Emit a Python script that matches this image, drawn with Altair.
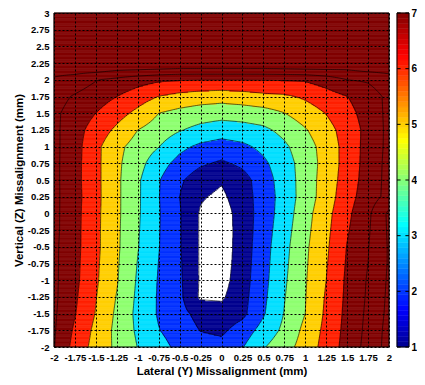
import numpy as np
import pandas as pd
import altair as alt

# ---------------- data ----------------
x_vals = [-2.0, -1.75, -1.5, -1.25, -1.0, -0.75, -0.5, -0.25, 0.0,
          0.25, 0.5, 0.75, 1.0, 1.25, 1.5, 1.75, 2.0]
y_vals = [-2.0, -1.75, -1.5, -1.25, -1.0, -0.75, -0.5, -0.25, 0.0, 0.25,
          0.5, 0.75, 1.0, 1.25, 1.5, 1.75, 2.0, 2.25, 2.5, 2.75, 3.0]

# one row per y value (bottom to top), one column per x value
z_m200 = [8.05, 6.64, 5.63, 4.8, 3.98, 3.35, 2.75, 2.45, 2.35, 2.95, 3.92, 4.62, 5.41, 6.39, 7.39, 8.33, 9.38]
z_m175 = [8.1, 6.84, 5.75, 4.74, 3.84, 3.04, 2.51, 1.97, 1.8, 2.46, 3.38, 4.22, 5.27, 6.27, 7.32, 8.26, 9.35]
z_m150 = [8.15, 7.05, 5.95, 4.82, 3.75, 2.9, 2.29, 1.7, 1.4, 1.75, 2.9, 4.04, 5.0, 6.18, 7.26, 8.2, 9.25]
z_m125 = [8.2, 7.15, 6.04, 4.95, 3.81, 2.9, 2.22, 0.85, 0.85, 1.66, 2.79, 3.95, 4.96, 6.1, 7.21, 8.13, 9.2]
z_m100 = [8.2, 7.24, 6.14, 5.08, 3.88, 2.93, 2.16, 0.9, 0.6, 1.58, 2.7, 3.86, 4.92, 6.0, 7.18, 8.09, 9.15]
z_m075 = [8.2, 7.27, 6.18, 5.12, 3.96, 2.98, 2.13, 0.9, 0.5, 1.52, 2.65, 3.78, 4.87, 5.92, 7.11, 8.0, 9.1]
z_m050 = [8.2, 7.3, 6.23, 5.17, 4.05, 3.04, 2.08, 0.9, 0.45, 1.48, 2.6, 3.71, 4.82, 5.84, 7.04, 7.96, 9.1]
z_m025 = [8.25, 7.31, 6.23, 5.18, 4.09, 3.06, 2.08, 0.9, 0.45, 1.46, 2.52, 3.6, 4.72, 5.76, 6.9, 7.88, 9.15]
z_p000 = [8.25, 7.33, 6.24, 5.2, 4.13, 3.08, 2.08, 0.9, 0.5, 1.46, 2.46, 3.48, 4.62, 5.68, 6.77, 7.8, 9.2]
z_p025 = [8.25, 7.36, 6.27, 5.2, 4.15, 3.04, 2.0, 1.1, 0.8, 1.55, 2.44, 3.42, 4.45, 5.5, 6.6, 7.53, 8.3]
z_p050 = [8.25, 7.33, 6.26, 5.2, 4.15, 3.07, 2.16, 1.45, 1.1, 1.6, 2.54, 3.46, 4.45, 5.46, 6.45, 7.45, 8.3]
z_p075 = [8.25, 7.34, 6.26, 5.2, 4.37, 3.41, 2.67, 2.15, 1.85, 2.21, 2.81, 3.57, 4.44, 5.38, 6.39, 7.39, 8.3]
z_p100 = [8.25, 7.38, 6.26, 5.26, 4.6, 4.03, 3.25, 2.8, 2.6, 2.8, 3.24, 3.83, 4.56, 5.41, 6.38, 7.36, 8.25]
z_p125 = [8.25, 7.38, 6.58, 5.8, 5.0, 4.54, 4.07, 3.7, 3.45, 3.6, 3.8, 4.28, 4.92, 5.64, 6.42, 7.31, 8.25]
z_p150 = [8.2, 7.58, 7.0, 6.39, 5.74, 5.0, 4.7, 4.5, 4.4, 4.45, 4.6, 4.98, 5.5, 6.03, 6.67, 7.41, 8.25]
z_p175 = [8.4, 7.89, 7.45, 7.0, 6.49, 5.98, 5.7, 5.5, 5.4, 5.55, 5.75, 5.85, 6.14, 6.56, 6.98, 7.6, 8.2]
z_p200 = [8.9, 8.6, 8.05, 7.75, 7.4, 7.15, 7.05, 7.02, 7.02, 7.02, 7.03, 7.05, 7.1, 7.45, 8.0, 8.1, 8.5]
z_p225 = [9.53, 9.85, 10.21, 9.98, 10.07, 10.04, 9.92, 9.93, 9.93, 9.93, 9.93, 10.0, 10.07, 9.95, 9.67, 9.98, 9.89]
z_p250 = [10.5, 10.5, 10.5, 10.5, 10.5, 10.5, 10.5, 10.5, 10.5, 10.5, 10.5, 10.5, 10.5, 10.5, 10.5, 10.5, 10.5]
z_p275 = [10.5, 10.5, 10.5, 10.5, 10.5, 10.5, 10.5, 10.5, 10.5, 10.5, 10.5, 10.5, 10.5, 10.5, 10.5, 10.5, 10.5]
z_p300 = [10.5, 10.5, 10.5, 10.5, 10.5, 10.5, 10.5, 10.5, 10.5, 10.5, 10.5, 10.5, 10.5, 10.5, 10.5, 10.5, 10.5]

fill_levels = [1, 2, 3, 4, 5, 6, 7]
line_levels = [1, 2, 3, 4, 5, 6, 7, 8, 9]
cbar_ticks = [1, 2, 3, 4, 5, 6, 7]

# ---------------- styles ----------------
band_colors = ["#ffffff", "#00008f", "#0030ff", "#00dfff", "#8fff70",
               "#ffcf00", "#ff2000", "#800000"]
jet_pos = [0.0, 7 / 63, 23 / 63, 39 / 63, 55 / 63, 1.0]
jet_cols = ["#00008f", "#0000ff", "#00ffff", "#ffff00", "#ff0000", "#800000"]
FONT = "Liberation Sans"

# ---------------- contour computation ----------------
X = np.array(x_vals)
Y = np.array(y_vals)
Z = np.array([z_m200, z_m175, z_m150, z_m125, z_m100, z_m075, z_m050, z_m025,
              z_p000, z_p025, z_p050, z_p075, z_p100, z_p125, z_p150, z_p175,
              z_p200, z_p225, z_p250, z_p275, z_p300])


def bilinear(xq, yq):
    ix = np.clip(np.searchsorted(X, xq, side="right") - 1, 0, len(X) - 2)
    iy = np.clip(np.searchsorted(Y, yq, side="right") - 1, 0, len(Y) - 2)
    tx = (xq - X[ix]) / (X[ix + 1] - X[ix])
    ty = (yq - Y[iy]) / (Y[iy + 1] - Y[iy])
    return (Z[iy, ix] * (1 - tx) * (1 - ty) + Z[iy, ix + 1] * tx * (1 - ty)
            + Z[iy + 1, ix] * (1 - tx) * ty + Z[iy + 1, ix + 1] * tx * ty)


# filled bands as horizontal runs
fx = np.linspace(X[0], X[-1], 801)
nrow = 260
ye = np.linspace(Y[0], Y[-1], nrow + 1)
yc = (ye[:-1] + ye[1:]) / 2
F = bilinear(fx[None, :], yc[:, None])
band = np.digitize(F, fill_levels)
rows = []
n = len(fx)
for r in range(nrow):
    b = band[r]
    ch = np.nonzero(np.diff(b))[0]
    starts = np.concatenate([[0], ch + 1])
    ends = np.concatenate([ch, [n - 1]])
    for s, e in zip(starts, ends):
        xl = fx[0] if s == 0 else (fx[s - 1] + fx[s]) / 2
        xr = fx[-1] if e == n - 1 else (fx[e] + fx[e + 1]) / 2
        rows.append({"x": xl, "x2": xr, "y": ye[r], "y2": ye[r + 1], "band": int(b[s])})
fill_df = pd.DataFrame(rows)

# contour lines (marching squares on a finer grid)
lx = np.linspace(X[0], X[-1], 161)
ly = np.linspace(Y[0], Y[-1], 201)
G = bilinear(lx[None, :], ly[:, None])
segs = []
for L in line_levels:
    B = G >= L
    cnt = B[:-1, :-1].astype(int) + B[:-1, 1:] + B[1:, :-1] + B[1:, 1:]
    ii, jj = np.nonzero((cnt > 0) & (cnt < 4))
    for i, j in zip(ii, jj):
        corners = [(lx[j], ly[i], G[i, j]), (lx[j + 1], ly[i], G[i, j + 1]),
                   (lx[j + 1], ly[i + 1], G[i + 1, j + 1]), (lx[j], ly[i + 1], G[i + 1, j])]
        pts = []
        for k in range(4):
            xa, ya, va = corners[k]
            xb, yb, vb = corners[(k + 1) % 4]
            if (va >= L) != (vb >= L):
                t = (L - va) / (vb - va)
                pts.append((xa + t * (xb - xa), ya + t * (yb - ya)))
        for k in range(0, len(pts) - 1, 2):
            segs.append({"x": pts[k][0], "y": pts[k][1], "x2": pts[k + 1][0], "y2": pts[k + 1][1]})
seg_df = pd.DataFrame(segs)

# ---------------- main chart ----------------
xscale = alt.Scale(domain=[float(X.min()), float(X.max())], nice=False, zero=False)
yscale = alt.Scale(domain=[float(Y.min()), float(Y.max())], nice=False, zero=False)
xaxis = alt.Axis(values=x_vals, labelExpr="datum.value + ''", title="Lateral (Y) Missalignment (mm)",
                 grid=True, gridColor="black", gridDash=[2, 2], gridWidth=1, gridOpacity=1,
                 ticks=False, domain=False, labelFont=FONT, labelFontWeight="bold",
                 labelFontSize=9.5, labelColor="black", labelPadding=5, labelOverlap=False,
                 labelFlush=False, titleFont=FONT, titleFontWeight="bold", titleFontSize=11.5,
                 titleColor="black", titlePadding=4, zindex=1)
yaxis = alt.Axis(values=y_vals, labelExpr="datum.value + ''", title="Vertical (Z) Missalignment (mm)",
                 grid=True, gridColor="black", gridDash=[2, 2], gridWidth=1, gridOpacity=1,
                 ticks=False, domain=False, labelFont=FONT, labelFontWeight="bold",
                 labelFontSize=9.5, labelColor="black", labelPadding=5, labelOverlap=False,
                 labelFlush=False, titleFont=FONT, titleFontWeight="bold", titleFontSize=11.5,
                 titleColor="black", titlePadding=3, zindex=1)

band_scale = alt.Scale(domain=list(range(len(band_colors))), range=band_colors)

fill = alt.Chart(fill_df).mark_rect(strokeWidth=0.6).encode(
    x=alt.X("x:Q", scale=xscale, axis=xaxis), x2="x2:Q",
    y=alt.Y("y:Q", scale=yscale, axis=yaxis), y2="y2:Q",
    color=alt.Color("band:O", scale=band_scale, legend=None),
    stroke=alt.Stroke("band:O", scale=band_scale, legend=None),
)
lines = alt.Chart(seg_df).mark_rule(color="black", strokeWidth=0.7, opacity=0.85).encode(
    x=alt.X("x:Q", scale=xscale, axis=xaxis), x2="x2:Q",
    y=alt.Y("y:Q", scale=yscale, axis=yaxis), y2="y2:Q",
)
frame_df = pd.DataFrame({"x": [X.min()], "x2": [X.max()], "y": [Y.min()], "y2": [Y.max()]})
frame = alt.Chart(frame_df).mark_rect(filled=False, stroke="black", strokeWidth=1).encode(
    x=alt.X("x:Q", scale=xscale, axis=xaxis), x2="x2:Q",
    y=alt.Y("y:Q", scale=yscale, axis=yaxis), y2="y2:Q",
)
main = alt.layer(fill, lines, frame).properties(width=335, height=334)

# ---------------- colorbar ----------------
lo, hi = cbar_ticks[0], cbar_ticks[-1]
nb = 64
cb_df = pd.DataFrame({
    "x": [0.0] * nb, "x2": [1.0] * nb,
    "lo": [lo + (hi - lo) * k / nb for k in range(nb)],
    "hi": [lo + (hi - lo) * (k + 1) / nb for k in range(nb)],
})
cb_df["mid"] = (cb_df["lo"] + cb_df["hi"]) / 2
jet_scale = alt.Scale(domain=[lo + (hi - lo) * p for p in jet_pos], range=jet_cols, interpolate="rgb")
cb_x = alt.Scale(domain=[0, 1], nice=False, zero=False)
cb_y = alt.Scale(domain=[lo, hi], nice=False, zero=False)
cb_axis = alt.Axis(orient="right", values=cbar_ticks, labelExpr="datum.value + ''", title=None,
                   ticks=False, domain=False, grid=False, labelFont=FONT, labelFontWeight="bold",
                   labelFontSize=10, labelColor="black", labelPadding=2, labelFlush=False,
                   labelOverlap=False)
cb_rect = alt.Chart(cb_df).mark_rect(strokeWidth=0.5).encode(
    x=alt.X("x:Q", scale=cb_x, axis=None), x2="x2:Q",
    y=alt.Y("lo:Q", scale=cb_y, axis=cb_axis), y2="hi:Q",
    color=alt.Color("mid:Q", scale=jet_scale, legend=None),
    stroke=alt.Stroke("mid:Q", scale=jet_scale, legend=None),
)
tick_df = pd.DataFrame({"v": cbar_ticks})
cb_tl = alt.Chart(tick_df).mark_rule(color="black", strokeWidth=1).encode(
    x=alt.X("a:Q", scale=cb_x, axis=None),
    x2="b:Q", y=alt.Y("v:Q", scale=cb_y, axis=cb_axis),
).transform_calculate(a="0", b="0.3")
cb_tr = alt.Chart(tick_df).mark_rule(color="black", strokeWidth=1).encode(
    x=alt.X("a:Q", scale=cb_x, axis=None),
    x2="b:Q", y=alt.Y("v:Q", scale=cb_y, axis=cb_axis),
).transform_calculate(a="0.7", b="1")
cb_frame_df = pd.DataFrame({"x": [0.0], "x2": [1.0], "lo": [lo], "hi": [hi]})
cb_frame = alt.Chart(cb_frame_df).mark_rect(filled=False, stroke="black", strokeWidth=1).encode(
    x=alt.X("x:Q", scale=cb_x, axis=None), x2="x2:Q",
    y=alt.Y("lo:Q", scale=cb_y, axis=cb_axis), y2="hi:Q",
)
cbar = alt.layer(cb_rect, cb_tl, cb_tr, cb_frame).properties(width=12, height=334)

chart = alt.hconcat(main, cbar, spacing=4).properties(
    padding={"left": 5, "top": 0, "right": 0, "bottom": 0},
    background="white",
).configure_view(stroke=None)

chart.save("out.html", embed_options={"renderer": "svg", "actions": False})
